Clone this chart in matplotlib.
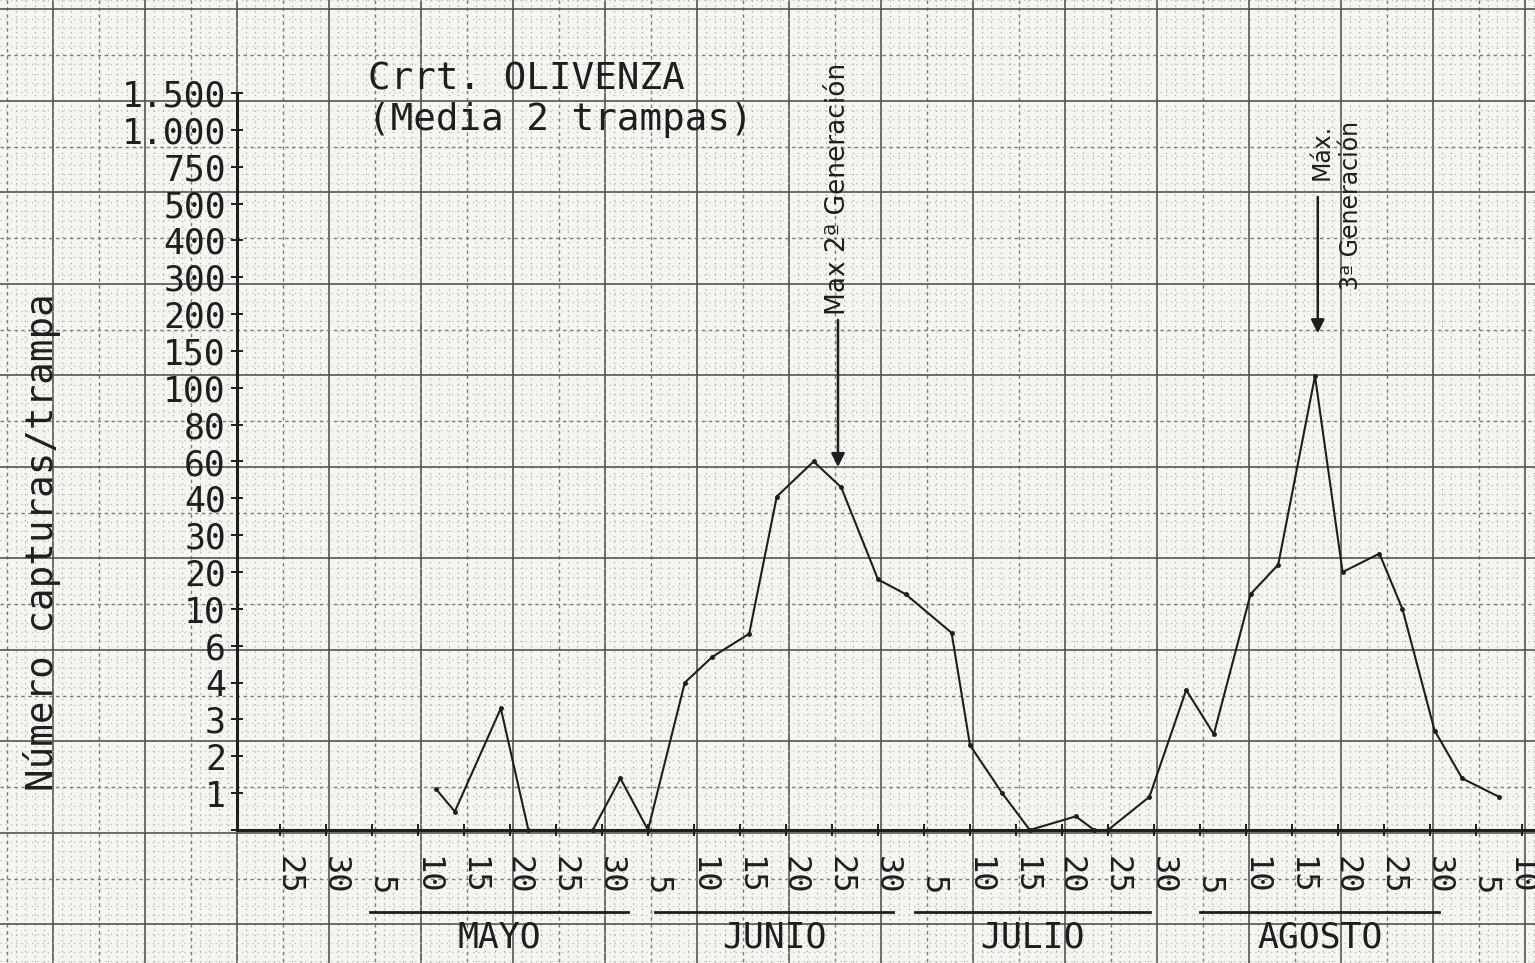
import numpy as np
import matplotlib
matplotlib.use("Agg")
import matplotlib.pyplot as plt

# ---------------- data ----------------
# x: days after 25 April on the typed (uniform 5-day) axis
dias = [17, 19, 24, 27, 34, 37, 40, 44, 47, 51, 54, 58, 61, 65, 68, 73, 75,
        78.5, 81.5, 86.5, 88.5, 90, 94.5, 98.5, 101.5, 105.5, 108.5, 112.5,
        115.5, 119.5, 122, 125.5, 128.5, 132.5]
capturas = [1.1, 0.5, 3.3, 0, 0, 1.4, 0, 4.0, 5.4, 7.3, 41, 60, 46, 18, 14,
            7.4, 2.3, 1.0, 0, 0.37, 0, 0, 0.9, 3.8, 2.6, 14, 22, 116, 20, 25,
            10, 2.7, 1.4, 0.9]

y_ticks = [0, 1, 2, 3, 4, 6, 10, 20, 30, 40, 60, 80, 100, 150, 200, 300, 400,
           500, 750, 1000, 1500]
y_labels = ['', '1', '2', '3', '4', '6', '10', '20', '30', '40', '60', '80',
            '100', '150', '200', '300', '400', '500', '750', '1.000', '1.500']

x_ticks = list(range(0, 136, 5))
x_labels = ['25', '30', '5', '10', '15', '20', '25', '30', '5', '10', '15',
            '20', '25', '30', '5', '10', '15', '20', '25', '30', '5', '10',
            '15', '20', '25', '30', '5', '10']

meses = ['MAYO', 'JUNIO', 'JULIO', 'AGOSTO']
meses_ini = [9.8, 40.8, 69, 100]
meses_fin = [37.8, 66.6, 94.6, 126]

# ---------------- figure ----------------
W, H = 1535, 963
fig = plt.figure(figsize=(W / 100, H / 100), dpi=100)
paper = '#f5f5f1'
ink = '#1e1e1e'
fig.patch.set_facecolor(paper)

# graph paper background
bg = fig.add_axes([0, 0, 1, 1], zorder=0)
bg.set_xlim(0, W)
bg.set_ylim(H, 0)
bg.axis('off')
x0, sx = 237.0, 9.2
y0, sy = 833.0, 9.15
kx = np.arange(-26, 150)
ky = np.arange(-14, 92)
xs = x0 + sx * kx
ys = y0 - sy * ky
for arr, kk, vert in ((xs, kx, True), (ys, ky, False)):
    minor = arr[(kk % 5) != 0]
    mid = arr[((kk % 5) == 0) & ((kk % 10) != 0)]
    major = arr[(kk % 10) == 0]
    mcol = '#a8a8a8' if vert else '#bdbdbd'
    if vert:
        bg.vlines(minor, 0, H, colors=mcol, lw=0.9, linestyles=(0, (1.0, 3.2)))
        bg.vlines(mid, 0, H, colors='#7a7a7a', lw=1.0, linestyles=(0, (2.5, 2.5)))
        bg.vlines(major, 0, H, colors='#555555', lw=1.2)
    else:
        bg.hlines(minor, 0, W, colors=mcol, lw=0.9, linestyles=(0, (1.0, 3.2)))
        bg.hlines(mid, 0, W, colors='#7a7a7a', lw=1.0, linestyles=(0, (2.5, 2.5)))
        bg.hlines(major, 0, W, colors='#555555', lw=1.2)

# main axes
ax = fig.add_axes([237 / W, (H - 830) / H, (W - 237) / W, 737 / H], zorder=2)
ax.patch.set_alpha(0)

idx = np.arange(len(y_ticks), dtype=float)
fwd = lambda v: np.interp(v, y_ticks, idx)
inv = lambda i: np.interp(i, idx, y_ticks)
ax.set_yscale('function', functions=(fwd, inv))
ax.set_ylim(0, 1500)
ax.set_xlim((237 - 280) / 9.2, (W - 280) / 9.2)

mono = 'DejaVu Sans Mono'
ax.set_yticks(y_ticks)
ax.set_yticklabels(y_labels, family=mono, fontsize=25, color=ink)
ax.tick_params(axis='y', direction='inout', length=8, width=1.4, pad=4, colors=ink)
ax.set_xticks(x_ticks)
ax.tick_params(axis='x', direction='inout', length=9, width=1.4, labelbottom=False, colors=ink)

for s in ('top', 'right'):
    ax.spines[s].set_visible(False)
for s in ('left', 'bottom'):
    ax.spines[s].set_linewidth(2.2)
    ax.spines[s].set_color(ink)

ax.plot(dias, capturas, color=ink, lw=1.5, marker='o', ms=2.5, clip_on=False, zorder=3)

# x tick labels (rotated, bottom aligned)
xt = ax.get_xaxis_transform()
for i, (d, lab) in enumerate(zip(x_ticks, x_labels)):
    off = 0.9 if i < len(x_ticks) - 1 else -0.3
    ax.text(d + off, -0.088, lab, transform=xt, rotation=-90, ha='center', va='bottom',
            family=mono, fontsize=23, color=ink, clip_on=False)

# month underlines and names
for name, a, b in zip(meses, meses_ini, meses_fin):
    ax.plot([a, b], [-0.111, -0.111], transform=xt, color=ink, lw=2.0, clip_on=False)
    ax.text((a + b) / 2, -0.146, name, transform=xt, ha='center', va='center',
            family=mono, fontsize=25, color=ink, clip_on=False)

# titles
fig.text(368 / W, 1 - 90 / H, 'Crrt. OLIVENZA', family=mono, fontsize=27,
         color=ink, ha='left', va='baseline')
fig.text(368 / W, 1 - 130 / H, '(Media 2 trampas)', family=mono, fontsize=27,
         color=ink, ha='left', va='baseline')
fig.text(42 / W, 1 - 542 / H, 'Número capturas/trampa', family=mono, fontsize=27,
         color=ink, rotation=90, ha='center', va='center')

# arrows / annotations
hand = 'DejaVu Sans'
ax.annotate('', xy=(60.65, 0.4925), xytext=(60.65, 0.692),
            xycoords=('data', 'axes fraction'), textcoords=('data', 'axes fraction'),
            arrowprops=dict(arrowstyle='-|>', color=ink, lw=1.8, mutation_scale=20,
                            shrinkA=0, shrinkB=0), annotation_clip=False)
ax.text(60.65, 0.699, 'Max 2ª Generación', transform=xt, rotation=90, ha='center',
        va='bottom', family=hand, fontsize=19, color=ink, clip_on=False)

ax.annotate('', xy=(112.8, 0.674), xytext=(112.8, 0.859),
            xycoords=('data', 'axes fraction'), textcoords=('data', 'axes fraction'),
            arrowprops=dict(arrowstyle='-|>', color=ink, lw=1.8, mutation_scale=20,
                            shrinkA=0, shrinkB=0), annotation_clip=False)
ax.text(113.2, 0.882, 'Máx.', transform=xt, rotation=90, ha='center',
        va='bottom', family=hand, fontsize=17, color=ink, clip_on=False)
ax.text(116.4, 0.733, '3ª Generación', transform=xt, rotation=90, ha='center',
        va='bottom', family=hand, fontsize=17, color=ink, clip_on=False)

fig.savefig('out.png', dpi=100, facecolor=fig.get_facecolor())
